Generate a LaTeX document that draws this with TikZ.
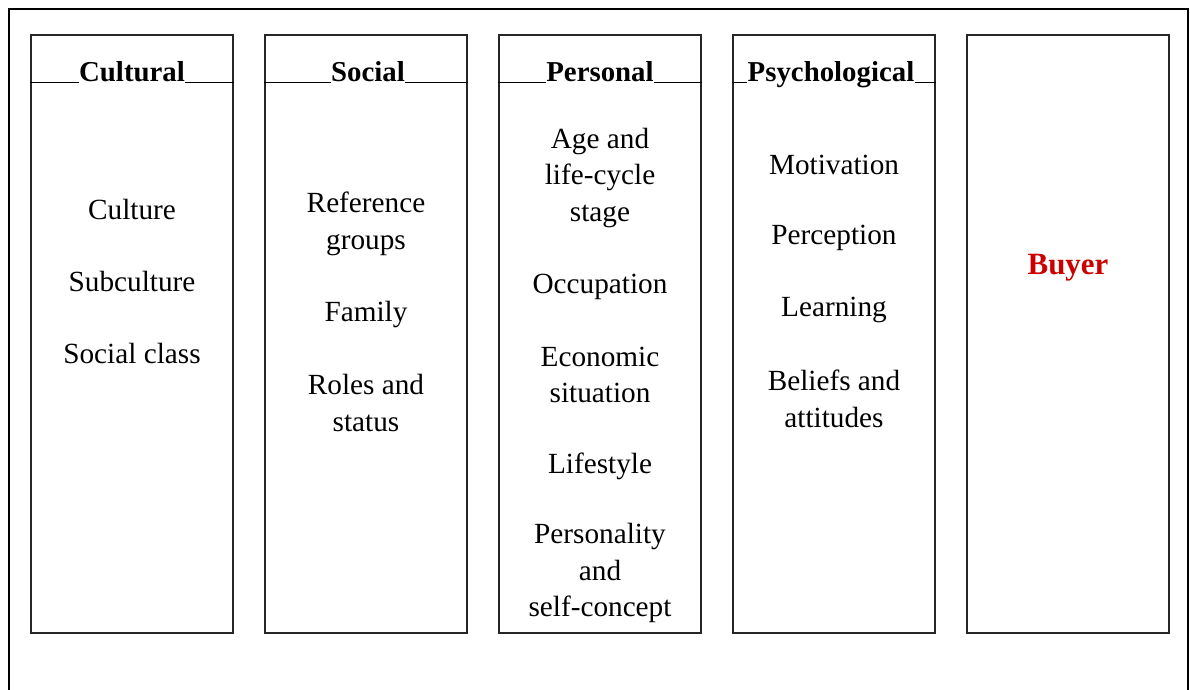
\documentclass[tikz,border=0pt]{standalone}
\usepackage{fontspec}
\setmainfont{Liberation Serif}
\definecolor{buyerred}{RGB}{204,0,0}
\begin{document}
\begin{tikzpicture}[x=0.025cm,y=-0.025cm,
    col/.style={rectangle,draw=black!85,line width=1.3pt,minimum width=5.05cm,minimum height=14.95cm},
    head/.style={font=\fontsize{20.5}{24}\selectfont\bfseries,anchor=base,inner xsep=0pt},
    item/.style={font=\fontsize{20.8}{26}\selectfont,align=center},
    uline/.style={draw=black,line width=1.3pt}
]
    \useasboundingbox (0,0) rectangle (1190,690);
    % outer frame
    \draw[line width=1.2pt] (9,690) -- (9,9) -- (1188,9) -- (1188,690);
    % columns
    \node[col] (cult) at (132,334) {};
    \node[col] (soc) at (366,334) {};
    \node[col] (pers) at (600,334) {};
    \node[col] (psy) at (834,334) {};
    \node[col] (buy) at (1068,334) {};
    % headings
    \node[head] (culth) at (132,81.5) {Cultural};
    \node[head] (soch) at (368,81.5) {Social};
    \node[head] (persh) at (600,81.5) {Personal};
    \node[head] (psyh) at (831,81.5) {Psychological};
    \foreach \c in {cult,soc,pers,psy}{
        \draw[uline] (\c.west |- 0,82.5) -- (\c h.west |- 0,82.5);
        \draw[uline] (\c h.east |- 0,82.5) -- (\c.east |- 0,82.5);
    }
    % cultural
    \node[item] (culture) at (132,209) {Culture};
    \node[item] (subcult) at (132,281) {Subculture};
    \node[item] (sclass) at (132,353) {Social class};
    % social
    \node[item] (refgr) at (366,224) {Reference\\groups};
    \node[item] (family) at (366,315) {Family};
    \node[item] (roles) at (366,403) {Roles and\\status};
    % personal
    \node[item] (age) at (600,178) {Age and\\life-cycle\\stage};
    \node[item] (occup) at (600,287) {Occupation};
    \node[item] (econ) at (600,375) {Economic\\situation};
    \node[item] (lifest) at (600,466) {Lifestyle};
    \node[item] (person) at (600,573) {Personality\\and\\self-concept};
    % psychological
    \node[item] (motiv) at (834,165) {Motivation};
    \node[item] (percep) at (834,238) {Perception};
    \node[item] (learn) at (834,310) {Learning};
    \node[item] (belief) at (834,399) {Beliefs and\\attitudes};
    % buyer
    \node[item,font=\fontsize{22}{26}\selectfont\bfseries,text=buyerred] (buyer) at (1068,268) {Buyer};
\end{tikzpicture}
\end{document}
